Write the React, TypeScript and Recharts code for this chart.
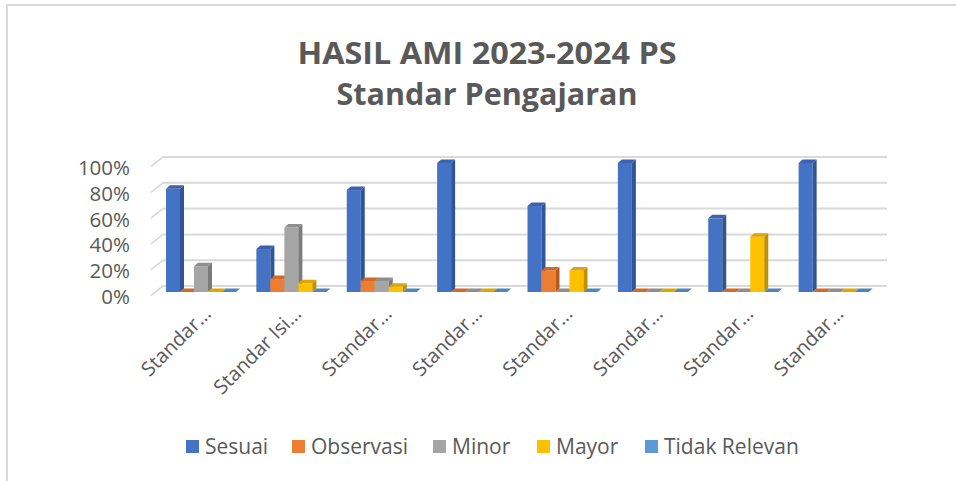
import React from "react";
import { Bar, BarChart, CartesianGrid, XAxis, YAxis } from "recharts";

const title = ["HASIL AMI 2023-2024 PS", "Standar Pengajaran"];

const categories = [
  "Standar…",
  "Standar Isi…",
  "Standar…",
  "Standar…",
  "Standar…",
  "Standar…",
  "Standar…",
  "Standar…"
];

const sesuai = [0.8, 0.333, 0.79, 1, 0.667, 1, 0.571, 1];
const observasi = [0, 0.1, 0.085, 0, 0.167, 0, 0, 0];
const minor = [0.2, 0.5, 0.085, 0, 0, 0, 0, 0];
const mayor = [0, 0.067, 0.04, 0, 0.167, 0, 0.429, 0];
const tidakRelevan = [0, 0, 0, 0, 0, 0, 0, 0];

const yTicks = [0, 0.2, 0.4, 0.6, 0.8, 1];

const series = [
  { key: "sesuai", name: "Sesuai", front: "#4472C4", side: "#2F5597", top: "#3A62AE" },
  { key: "observasi", name: "Observasi", front: "#ED7D31", side: "#B05B22", top: "#CF6A28" },
  { key: "minor", name: "Minor", front: "#A5A5A5", side: "#7B7B7B", top: "#8E8E8E" },
  { key: "mayor", name: "Mayor", front: "#FFC000", side: "#BF9000", top: "#DDA600" },
  { key: "tidakRelevan", name: "Tidak Relevan", front: "#5B9BD5", side: "#41719C", top: "#4C86BB" }
];

const data = categories.map((name, i) => ({
  name,
  sesuai: sesuai[i],
  observasi: observasi[i],
  minor: minor[i],
  mayor: mayor[i],
  tidakRelevan: tidakRelevan[i]
}));

const FONT = "'Open Sans', 'Noto Sans', sans-serif";
const TEXT = "#595959";
const GRID = "#D9D9D9";

// where each legend entry starts (layout only)
const legendLeft = [186, 292, 433, 537, 645];

// fake 3d column: front face, right side, top
function Box3D(props: any) {
  const { x, y, width, height, front, side, top } = props;
  if (x == null || y == null || isNaN(x) || isNaN(y)) return null;
  const d = 4;
  const e = 3.5;
  const h = Math.max(0, height || 0);
  return (
    <g>
      {h > 0 && <rect x={x} y={y} width={width} height={h} fill={front} />}
      {h > 0 && (
        <polygon
          points={`${x + width},${y} ${x + width + d},${y - e} ${x + width + d},${y + h - e} ${x + width},${y + h}`}
          fill={side}
        />
      )}
      <polygon
        points={`${x},${y} ${x + d},${y - e} ${x + width + d},${y - e} ${x + width},${y}`}
        fill={top}
      />
    </g>
  );
}

// back-wall gridline with a short diagonal on the side wall
function GridLine(props: any) {
  const { x1, x2, y1, key } = props;
  return (
    <g key={key}>
      <line x1={x1 - 5} y1={y1 + 3.5} x2={x1 + 7} y2={y1 - 6} stroke={GRID} strokeWidth={1.6} />
      <line x1={x1 + 7} y1={y1 - 6} x2={x2 + 8} y2={y1 - 6} stroke={GRID} strokeWidth={2} />
    </g>
  );
}

function YTick({ x, y, payload }: any) {
  return (
    <text x={x} y={y + 12} textAnchor="end" fontFamily={FONT} fontSize={20.5} fill={TEXT}>
      {`${Math.round(payload.value * 100)}%`}
    </text>
  );
}

function XTick({ x, y, payload }: any) {
  const ax = x + 11;
  const ay = y + 23;
  return (
    <text
      x={ax}
      y={ay}
      textAnchor="end"
      transform={`rotate(-45 ${ax} ${ay})`}
      fontFamily={FONT}
      fontSize={20}
      fill={TEXT}
    >
      {payload.value}
    </text>
  );
}

export default function App() {
  return (
    <div
      style={{
        position: "absolute",
        left: 0,
        top: 0,
        width: 956,
        height: 481,
        background: "#fff",
        overflow: "hidden"
      }}
    >
      <div
        style={{
          position: "absolute",
          left: 6,
          top: 4,
          width: 960,
          height: 490,
          borderLeft: `2px solid ${GRID}`,
          borderTop: `2px solid ${GRID}`
        }}
      />
      <svg width={956} height={120} style={{ position: "absolute", left: 0, top: 0 }}>
        <text
          x={487}
          y={64}
          textAnchor="middle"
          fontFamily={FONT}
          fontWeight={700}
          fontSize={30}
          fill={TEXT}
          textLength={379}
          lengthAdjust="spacingAndGlyphs"
        >
          {title[0]}
        </text>
        <text
          x={487}
          y={105}
          textAnchor="middle"
          fontFamily={FONT}
          fontWeight={700}
          fontSize={30}
          fill={TEXT}
          textLength={301}
          lengthAdjust="spacingAndGlyphs"
        >
          {title[1]}
        </text>
      </svg>
      <div style={{ position: "absolute", left: 0, top: 0 }}>
        <BarChart
          width={956}
          height={481}
          data={data}
          margin={{ top: 163, right: 77, bottom: 159, left: 0 }}
          barCategoryGap={10}
          barGap={0}
        >
          <CartesianGrid vertical={false} horizontal={(p: any) => <GridLine {...p} />} />
          <XAxis
            dataKey="name"
            axisLine={false}
            tickLine={false}
            tickSize={0}
            tickMargin={0}
            height={30}
            interval={0}
            tick={<XTick />}
          />
          <YAxis
            domain={[0, 1]}
            ticks={yTicks}
            axisLine={false}
            tickLine={false}
            tickSize={0}
            tickMargin={26}
            width={156}
            tick={<YTick />}
          />
          {series.map((s) => (
            <Bar
              key={s.key}
              dataKey={s.key}
              name={s.name}
              fill={s.front}
              isAnimationActive={false}
              shape={(p: any) => <Box3D {...p} front={s.front} side={s.side} top={s.top} />}
            />
          ))}
        </BarChart>
      </div>
      {series.map((s, i) => (
        <div
          key={s.key}
          style={{
            position: "absolute",
            left: legendLeft[i],
            top: 432,
            display: "flex",
            alignItems: "center",
            fontFamily: FONT,
            fontSize: 21,
            color: TEXT,
            whiteSpace: "nowrap"
          }}
        >
          <span style={{ width: 13, height: 13, background: s.front, marginRight: 6, display: "inline-block" }} />
          <span>{s.name}</span>
        </div>
      ))}
    </div>
  );
}
